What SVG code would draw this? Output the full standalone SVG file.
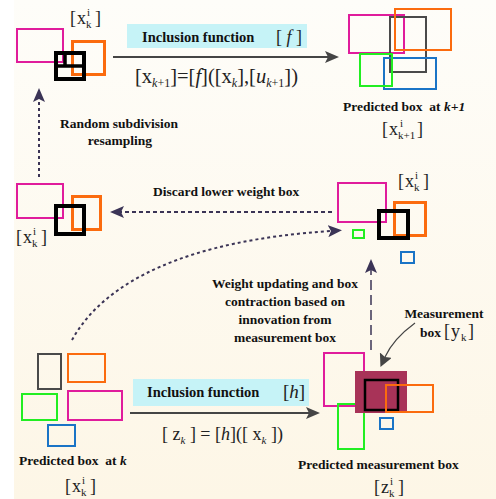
<svg xmlns="http://www.w3.org/2000/svg" width="496" height="499" viewBox="0 0 496 499">
  <defs>
    <linearGradient id="paper" x1="0" y1="0" x2="0" y2="1">
      <stop offset="0" stop-color="#fefdf9"/>
      <stop offset="1" stop-color="#fdf6e6"/>
    </linearGradient>
    <marker id="headGray" markerUnits="userSpaceOnUse" markerWidth="14" markerHeight="12" refX="3" refY="6" orient="auto">
      <path d="M0,0 L14,6 L0,12 L3,6 Z" fill="#454545"/>
    </marker>
    <marker id="headPurple" markerUnits="userSpaceOnUse" markerWidth="14" markerHeight="12" refX="3" refY="6" orient="auto">
      <path d="M0,0 L14,6 L0,12 L3,6 Z" fill="#3b3456"/>
    </marker>
    <marker id="headSmall" markerUnits="userSpaceOnUse" markerWidth="13" markerHeight="13" refX="2" refY="6.5" orient="auto">
      <path d="M0,0 L13,6.5 L0,13 L2,6.5 Z" fill="#454545"/>
    </marker>
  </defs>
  <style>
    .box { fill: none; stroke-width: 2; }
    .thick { stroke-width: 3; }
    .heavy { stroke-width: 4; }
    .mid { stroke-width: 2.5; }
    .mag { stroke: #e01c9c; }
    .org { stroke: #fb6b0e; }
    .grn { stroke: #22ee22; }
    .blu { stroke: #1a74c6; }
    .gry { stroke: #4a4a4a; }
    .blk { stroke: #000; }
    .lbl { font-family: "Liberation Serif", "Times New Roman", serif; font-weight: bold; font-size: 13.5px; fill: #111; }
    .mth { font-family: "Liberation Serif", "Times New Roman", serif; font-size: 18px; fill: #222; }
    .sm { font-size: 11px; }
    .it { font-style: italic; }
    .band { fill: #c6f3f7; }
  </style>

  <!-- paper -->
  <rect x="0" y="0" width="496" height="499" fill="#ffffff"/>
  <rect x="14" y="0" width="482" height="499" fill="url(#paper)"/>

  <!-- connectors -->
  <g id="connectors" fill="none">
    <!-- inclusion function f -->
    <line x1="113" y1="57" x2="328" y2="57" stroke="#454545" stroke-width="2" marker-end="url(#headGray)"/>
    <!-- inclusion function h -->
    <line x1="130" y1="413" x2="309" y2="413" stroke="#454545" stroke-width="2" marker-end="url(#headGray)"/>
    <!-- resampling -->
    <line x1="39" y1="177" x2="39" y2="99" stroke="#3b3456" stroke-width="2" stroke-dasharray="3 3" marker-end="url(#headPurple)"/>
    <!-- discard -->
    <line x1="332" y1="212" x2="121" y2="212" stroke="#3b3456" stroke-width="2" stroke-dasharray="4 3" marker-end="url(#headPurple)"/>
    <!-- weight update -->
    <line x1="371" y1="350" x2="371" y2="270" stroke="#3b3456" stroke-width="1.5" stroke-dasharray="10 5" marker-end="url(#headPurple)"/>
    <!-- prediction to measurement stage -->
    <path d="M72,340 C105,280 190,240 331,231" stroke="#3b3456" stroke-width="2" stroke-dasharray="3 3" marker-end="url(#headPurple)"/>
    <!-- measurement box pointer -->
    <path d="M415,323 C400,334 390,346 385,357" stroke="#454545" stroke-width="1.2" marker-end="url(#headSmall)"/>
  </g>

  <!-- resampled boxes -->
  <g id="resampled">
    <rect class="box mag" x="17" y="29" width="46" height="33"/>
    <rect class="box org thick" x="72.5" y="41.5" width="32" height="33"/>
    <rect class="box blk heavy" x="56" y="53" width="28" height="26"/>
    <path d="M56,66 H84 M65,53 V66" stroke="#000" stroke-width="3.5" fill="none"/>
    <text class="mth" x="70" y="24">[</text>
    <text class="mth" x="77" y="24">x</text>
    <text class="mth sm" x="87" y="16">i</text>
    <text class="mth sm" x="86" y="28">k</text>
    <text class="mth" x="95" y="24">]</text>
  </g>

  <!-- inclusion function f -->
  <g id="inclusion-f">
    <rect class="band" x="127" y="24" width="180" height="24"/>
    <text class="lbl" x="142" y="42" style="font-size:14.5px">Inclusion function</text>
    <text class="mth" x="276" y="43">[ <tspan class="it">f</tspan> ]</text>
    <text class="mth" x="135" y="83" style="font-size:20.5px">[x<tspan class="it" style="font-size:12px" dy="4">k</tspan><tspan style="font-size:12px">+1</tspan><tspan dy="-4">]=[</tspan><tspan class="it">f</tspan>]([x<tspan class="it" style="font-size:12px" dy="4">k</tspan><tspan dy="-4">],[</tspan><tspan class="it">u</tspan><tspan class="it" style="font-size:12px" dy="4">k</tspan><tspan style="font-size:12px">+1</tspan><tspan dy="-4">])</tspan></text>
  </g>

  <!-- predicted boxes at k+1 -->
  <g id="predicted-k1">
    <rect class="box mag" x="349" y="15" width="55" height="38"/>
    <rect class="box gry" x="390" y="17" width="36" height="55"/>
    <rect class="box org" x="395" y="9" width="56" height="41"/>
    <rect class="box blu" x="384" y="58" width="52" height="31"/>
    <rect class="box grn" x="360" y="54" width="32" height="32"/>
    <text class="lbl" x="343" y="111" xml:space="preserve">Predicted box  at <tspan class="it">k+1</tspan></text>
    <text class="mth" x="382" y="135">[</text>
    <text class="mth" x="389" y="135">x</text>
    <text class="mth sm" x="400" y="127">i</text>
    <text class="mth sm" x="398" y="139">k+1</text>
    <text class="mth" x="417" y="135">]</text>
  </g>

  <!-- resampling label -->
  <g id="resampling-label">
    <text class="lbl" x="119" y="128" text-anchor="middle">Random subdivision</text>
    <text class="lbl" x="120" y="145" text-anchor="middle">resampling</text>
  </g>

  <!-- kept boxes -->
  <g id="kept">
    <rect class="box mag" x="17" y="184" width="46" height="34"/>
    <rect class="box org thick" x="72.5" y="196.5" width="28" height="33"/>
    <rect class="box blk heavy" x="56" y="206" width="28" height="28"/>
    <text class="mth" x="16" y="243">[</text>
    <text class="mth" x="23" y="243">x</text>
    <text class="mth sm" x="33" y="235">i</text>
    <text class="mth sm" x="32" y="247">k</text>
    <text class="mth" x="41" y="243">]</text>
  </g>

  <text class="lbl" x="153" y="196">Discard lower weight box</text>

  <!-- weighted boxes -->
  <g id="weighted">
    <rect class="box mag" x="338" y="183" width="48" height="39"/>
    <rect class="box org thick" x="394.5" y="202.5" width="31" height="33"/>
    <rect class="box blk heavy" x="379" y="211" width="29" height="27"/>
    <rect class="box grn" x="353" y="230" width="11" height="8"/>
    <rect class="box blu" x="401" y="252" width="13" height="11"/>
    <text class="mth" x="398" y="187">[</text>
    <text class="mth" x="405" y="187">x</text>
    <text class="mth sm" x="415" y="179">i</text>
    <text class="mth sm" x="414" y="191">k</text>
    <text class="mth" x="423" y="187">]</text>
  </g>

  <!-- weight update label -->
  <g id="weight-label">
    <text class="lbl" x="285" y="288" text-anchor="middle">Weight updating and box</text>
    <text class="lbl" x="285" y="306" text-anchor="middle">contraction based on</text>
    <text class="lbl" x="285" y="324" text-anchor="middle">innovation from</text>
    <text class="lbl" x="285" y="342" text-anchor="middle">measurement box</text>
  </g>

  <!-- measurement box label -->
  <g id="measurement-label">
    <text class="lbl" x="444" y="318" text-anchor="middle">Measurement</text>
    <text class="lbl" x="420" y="337">box</text>
    <text class="mth" x="444" y="337">[</text>
    <text class="mth" x="451" y="337">y</text>
    <text class="mth sm" x="461" y="341">k</text>
    <text class="mth" x="468" y="337">]</text>
  </g>

  <!-- predicted boxes at k -->
  <g id="predicted-k">
    <rect class="box gry" x="38" y="354" width="23" height="35"/>
    <rect class="box org" x="68" y="354" width="37" height="28"/>
    <rect class="box grn" x="22" y="394" width="35" height="26"/>
    <rect class="box mag" x="68" y="391" width="54" height="29"/>
    <rect class="box blu" x="48" y="425" width="27" height="21"/>
    <text class="lbl" x="19" y="465" xml:space="preserve">Predicted box  at <tspan class="it">k</tspan></text>
    <text class="mth" x="65" y="492">[</text>
    <text class="mth" x="72" y="492">x</text>
    <text class="mth sm" x="82" y="484">i</text>
    <text class="mth sm" x="81" y="496">k</text>
    <text class="mth" x="90" y="492">]</text>
  </g>

  <!-- inclusion function h -->
  <g id="inclusion-h">
    <rect class="band" x="133" y="379" width="176" height="27"/>
    <text class="lbl" x="147" y="397" style="font-size:14.5px">Inclusion function</text>
    <text class="mth" x="283" y="398" style="font-size:19px">[<tspan class="it">h</tspan>]</text>
    <text class="mth" x="162" y="440" xml:space="preserve">[ z<tspan class="sm it" dy="4">k</tspan><tspan dy="-4"> ] = [</tspan><tspan class="it">h</tspan>]([ x<tspan class="sm it" dy="4">k</tspan><tspan dy="-4"> ])</tspan></text>
  </g>

  <!-- predicted measurement boxes -->
  <g id="predicted-measurement">
    <rect class="box mag" x="324" y="353" width="40" height="53"/>
    <rect class="box grn" x="338" y="404" width="26" height="45"/>
    <rect x="355" y="371" width="52" height="42" fill="#a83358"/>
    <rect class="box blk mid" x="365" y="380" width="33" height="30"/>
    <rect class="box org" x="386" y="385" width="47" height="27"/>
    <rect class="box blu" x="380" y="418" width="13" height="11"/>
    <text class="lbl" x="298" y="469">Predicted measurement box</text>
    <text class="mth" x="374" y="493">[</text>
    <text class="mth" x="381" y="493">z</text>
    <text class="mth sm" x="390" y="485">i</text>
    <text class="mth sm" x="389" y="497">k</text>
    <text class="mth" x="398" y="493">]</text>
  </g>
</svg>
